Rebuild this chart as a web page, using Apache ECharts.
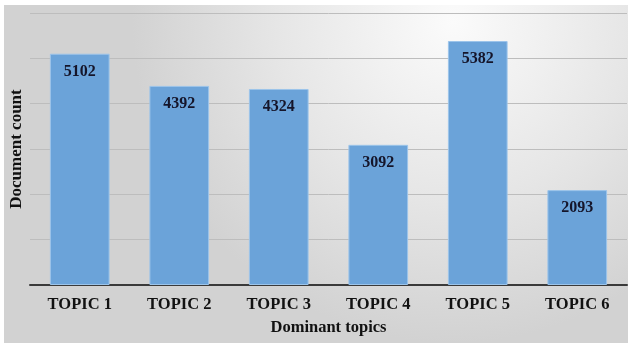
<!DOCTYPE html>
<html>
<head>
<meta charset="utf-8">
<style>
  html, body { margin: 0; padding: 0; background: #ffffff; }
  #chart { width: 628px; height: 343px; }
</style>
<script src="https://cdn.jsdelivr.net/npm/echarts@6/dist/echarts.min.js"></script>
</head>
<body>
<div id="chart"></div>
<script>
// Document counts per dominant topic
const topics = ['TOPIC 1', 'TOPIC 2', 'TOPIC 3', 'TOPIC 4', 'TOPIC 5', 'TOPIC 6'];
const docCounts = [5102, 4392, 4324, 3092, 5382, 2093];

const serif = '"Liberation Serif", "Times New Roman", serif';

const chart = echarts.init(document.getElementById('chart'), null, { renderer: 'canvas' });

chart.setOption({
  backgroundColor: '#ffffff',
  animation: false,
  graphic: [{
    type: 'rect',
    z: -10,
    silent: true,
    shape: { x: 4, y: 5, width: 624, height: 338 },
    style: {
      fill: new echarts.graphic.RadialGradient(0.72, 0.05, 0.95, [
        { offset: 0, color: '#fbfbfb' },
        { offset: 0.55, color: '#e6e6e6' },
        { offset: 1, color: '#d2d2d2' }
      ])
    }
  }],
  grid: { left: 30, right: 1, top: 13, bottom: 58, containLabel: false },
  xAxis: {
    type: 'category',
    data: topics,
    name: 'Dominant topics',
    nameLocation: 'middle',
    nameGap: 34,
    nameTextStyle: { fontFamily: serif, fontWeight: 'bold', fontSize: 16.5, color: '#111111' },
    axisLine: { show: true, lineStyle: { color: '#3a3a3a', width: 2 } },
    axisTick: { show: false },
    axisLabel: { margin: 11, fontFamily: serif, fontWeight: 'bold', fontSize: 16.5, color: '#111111' }
  },
  yAxis: {
    type: 'value',
    min: 0,
    max: 6000,
    interval: 1000,
    name: 'Document count',
    nameLocation: 'middle',
    nameRotate: 90,
    nameGap: 5,
    nameTextStyle: { fontFamily: serif, fontWeight: 'bold', fontSize: 17, color: '#111111' },
    axisLine: { show: false },
    axisTick: { show: false },
    axisLabel: { show: false },
    splitLine: { lineStyle: { color: '#bdbdbd', width: 1 } }
  },
  series: [{
    type: 'bar',
    data: docCounts,
    barCategoryGap: '40%',
    itemStyle: { color: '#6ba3d9', borderColor: '#9cc4ea', borderWidth: 1 },
    label: {
      show: true,
      position: 'insideTop',
      distance: 10,
      fontFamily: serif,
      fontWeight: 'bold',
      fontSize: 16,
      color: '#15152a'
    }
  }]
});
</script>
</body>
</html>
